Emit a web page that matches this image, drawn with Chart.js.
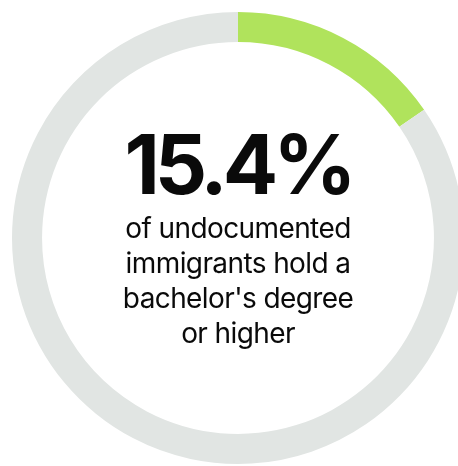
<!DOCTYPE html>
<html>
<head>
<meta charset="utf-8">
<script src="https://cdn.jsdelivr.net/npm/chart.js@4/dist/chart.umd.min.js"></script>
<style>
  html, body { margin: 0; padding: 0; background: #fff; overflow: hidden; width: 458px; height: 466px; }
  #wrap { position: absolute; left: 0; top: 0; width: 476px; height: 476px; }
  #big { position: absolute; left: 0; width: 476px; top: 124px; text-align: center;
         font: 700 82px Inter, sans-serif; line-height: 82px; letter-spacing: -5px; color: #0a0a0a; }
  #sub { position: absolute; left: 0; width: 476px; top: 211px; text-align: center;
         font: 400 28px Inter, sans-serif; line-height: 35px; letter-spacing: -0.6px; color: #0a0a0a; }
</style>
</head>
<body>
<div id="wrap">
  <canvas id="donut" width="476" height="476"></canvas>
  <div id="big">15.4%</div>
  <div id="sub">of undocumented<br>immigrants hold a<br>bachelor's degree<br>or higher</div>
</div>
<script>
// share of undocumented immigrants with a bachelor's degree or higher
var labels = ["Bachelor's degree or higher", "Other"];
var values = [15.4, 84.6];
var colors = ["#b0e35c", "#e1e5e3"];

var ctx = document.getElementById("donut").getContext("2d");
new Chart(ctx, {
    type: 'doughnut',
    data: {
        labels: labels,
        datasets: [{
            data: values,
            backgroundColor: colors,
            borderWidth: 0
        }]
    },
    options: {
        responsive: false,
        animation: false,
        cutout: '86.7%',
        layout: { padding: 12 },
        plugins: {
            legend: { display: false },
            tooltip: { enabled: false }
        }
    }
});
</script>
</body>
</html>
